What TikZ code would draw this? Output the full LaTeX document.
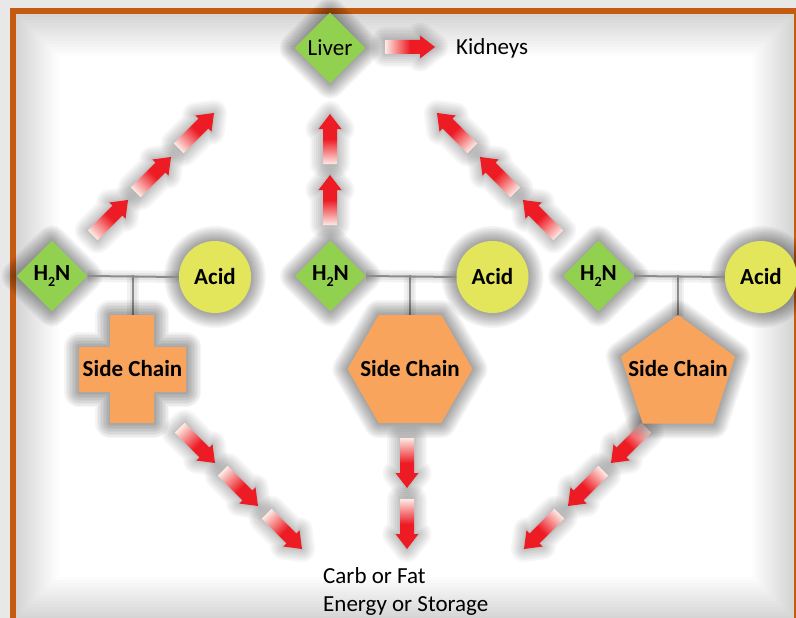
\documentclass[tikz,border=0pt]{standalone}
\usepackage{fontspec}
\setmainfont{Carlito}
\usetikzlibrary{shapes.geometric}

\definecolor{frameorange}{HTML}{C55A11}
\definecolor{leafgreen}{HTML}{92D050}
\definecolor{acidyellow}{HTML}{E3E55B}
\definecolor{chainorange}{HTML}{F8A45C}
\definecolor{flowred}{HTML}{ED1C24}
\definecolor{flowpale}{HTML}{FDEAE4}
\definecolor{bondgray}{HTML}{8C8C8C}
\definecolor{outergray}{HTML}{E8E8E8}

\tikzset{
  glowring/.style={preaction={draw=black, draw opacity=0.04, fill=none,
      line width=#1, line join=round}},
  halo/.style={glowring=30pt, glowring=27pt, glowring=24pt, glowring=21pt,
      glowring=18pt, glowring=15pt, glowring=12pt, glowring=9pt,
      glowring=6pt, glowring=3pt},
  softglowring/.style={preaction={draw=black, draw opacity=0.035, fill=none,
      line width=#1, line join=round}},
  softhalo/.style={softglowring=26pt, softglowring=22pt, softglowring=18pt,
      softglowring=14pt, softglowring=10pt, softglowring=6pt,
      softglowring=3pt},
  bigfont/.style={font=\fontsize{23}{27}\selectfont},
  boldfont/.style={font=\bfseries\fontsize{23}{27}\selectfont},
  amine/.style={diamond, fill=leafgreen, minimum width=71pt,
      minimum height=71pt, inner sep=0pt, halo},
  acid/.style={circle, fill=acidyellow, minimum size=72pt, inner sep=0pt,
      halo, boldfont},
  chainshape/.style={fill=chainorange, halo},
  chaintext/.style={boldfont, inner sep=0pt},
  bond/.style={draw=bondgray, line width=2pt,
      preaction={draw=black, draw opacity=0.05, line width=12pt},
      preaction={draw=black, draw opacity=0.05, line width=7pt}},
  flowfill/.style={left color=flowpale, right color=flowred,
      middle color=flowred, softhalo},
}

% block arrow whose tip sits on the named coordinate, pointing at the given angle
\newcommand\flowarrow[4]{%
  \coordinate (#1) at (#2,#3);
  \begin{scope}[transform canvas={shift={(#1)},rotate=#4}]
    \path[flowfill] (-50,-7) -- (-15,-7) -- (-15,-11.5) -- (0,0)
      -- (-15,11.5) -- (-15,7) -- (-50,7) -- cycle;
  \end{scope}%
}

\newcommand\aminotext{H\raisebox{-0.3em}{\fontsize{14}{14}\selectfont 2}N}

\begin{document}
\begin{tikzpicture}[x=1pt, y=-1pt]
  \useasboundingbox (0,0) rectangle (796,618);

  % page background and framed panel
  \fill[outergray] (0,0) rectangle (796,618);
  \fill[white] (16,14) rectangle (794,619);
  \foreach \k in {3,6,...,42} {
    \fill[black, opacity=0.011, even odd rule]
      (16,14) rectangle (794,619) (16+\k,14+\k) rectangle (794-\k,619-\k);
  }
  \draw[frameorange, line width=6pt] (13,11) rectangle (797,622);

  % flow arrows: up towards the liver
  \flowarrow{ul1}{128}{200}{45}
  \flowarrow{ul2}{171}{157}{45}
  \flowarrow{ul3}{214}{113}{45}
  \flowarrow{um1}{330}{175}{90}
  \flowarrow{um2}{330}{114}{90}
  \flowarrow{ur1}{523}{200}{135}
  \flowarrow{ur2}{480}{157}{135}
  \flowarrow{ur3}{437}{113}{135}
  \flowarrow{lk}{435}{47}{0}

  % flow arrows: down towards carb or fat
  \flowarrow{dl1}{215}{463}{-45}
  \flowarrow{dl2}{258}{506}{-45}
  \flowarrow{dl3}{302}{549}{-45}
  \flowarrow{dm1}{407}{488}{-90}
  \flowarrow{dm2}{407}{549}{-90}
  \flowarrow{dr1}{611}{463}{-135}
  \flowarrow{dr2}{568}{506}{-135}
  \flowarrow{dr3}{524}{549}{-135}

  % liver and kidneys
  \node[amine, bigfont] (liver) at (330,48) {Liver};
  \node[bigfont, anchor=base west, inner sep=0pt] (kidneys) at (456,55) {Kidneys};

  % amino acid 1: cross side chain
  \coordinate (j1) at (133,275);
  \coordinate (s1top) at (133,316);
  \draw[bond] (j1) -- (s1top);
  \node[amine, boldfont] (h1) at (52,276) {\aminotext};
  \node[acid] (c1) at (215,277) {Acid};
  \draw[bond] (h1.east) -- (c1.west);
  \path[chainshape] (110,315) -- (154,315) -- (154,347) -- (186,347)
    -- (186,392) -- (154,392) -- (154,423) -- (110,423) -- (110,392)
    -- (79,392) -- (79,347) -- (110,347) -- cycle;
  \node[chaintext] (s1) at (132.5,369) {Side Chain};

  % amino acid 2: hexagon side chain
  \coordinate (j2) at (410,275);
  \coordinate (s2top) at (410,316);
  \draw[bond] (j2) -- (s2top);
  \node[amine, boldfont] (h2) at (330.5,276) {\aminotext};
  \node[acid] (c2) at (492.5,277) {Acid};
  \draw[bond] (h2.east) -- (c2.west);
  \path[chainshape] (347.5,369) -- (378.75,315) -- (441.25,315)
    -- (472.5,369) -- (441.25,423) -- (378.75,423) -- cycle;
  \node[chaintext] (s2) at (410,369) {Side Chain};

  % amino acid 3: pentagon side chain
  \coordinate (j3) at (678,275);
  \coordinate (s3top) at (678,316);
  \draw[bond] (j3) -- (s3top);
  \node[amine, boldfont] (h3) at (598.5,276) {\aminotext};
  \node[acid] (c3) at (761,277) {Acid};
  \draw[bond] (h3.east) -- (c3.west);
  \path[chainshape] (678,315) -- (735.1,356.5) -- (713.3,423.5)
    -- (642.7,423.5) -- (620.9,356.5) -- cycle;
  \node[chaintext] (s3) at (678,369) {Side Chain};

  % end products
  \node[bigfont, anchor=base west, inner sep=0pt] (carb) at (323,583) {Carb or Fat};
  \node[bigfont, anchor=base west, inner sep=0pt] (energy) at (323,611) {Energy or Storage};
\end{tikzpicture}
\end{document}
